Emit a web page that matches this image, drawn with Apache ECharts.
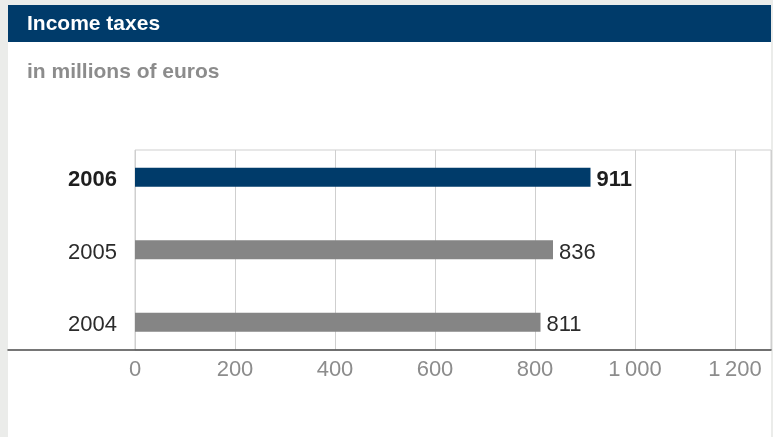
<!DOCTYPE html>
<html>
<head>
<meta charset="utf-8">
<script src="https://cdn.jsdelivr.net/npm/echarts@6/dist/echarts.min.js"></script>
<style>
  html, body { margin: 0; padding: 0; background: #ebecea; }
  #chart { width: 773px; height: 437px; }
</style>
</head>
<body>
<div id="chart"></div>
<script>
// data, top row first
const years = ['2006', '2005', '2004']
const incomeTaxes = [911, 836, 811]
const highlightYear = '2006'
const tickValues = [0, 200, 400, 600, 800, 1000, 1200]

const BLUE = '#003b6a'
const GREY_BAR = '#858585'
const GRID_LINE = '#cfcfcf'
const FONT = '"Liberation Sans", Arial, sans-serif'

// 0.5 px per euro million, 0 at x=135, axis runs to panel edge
const axisMax = 1272

const fmtTick = (v) => {
    if (!tickValues.includes(v)) return ''
    return v >= 1000 ? String(v).replace(/(\d)(\d{3})$/, '$1\u2009$2') : String(v)
}

const barData = years.map((y, i) => {
    const hi = y === highlightYear
    return {
        value: incomeTaxes[i],
        itemStyle: { color: hi ? BLUE : GREY_BAR },
        label: { fontWeight: hi ? 'bold' : 'normal', color: hi ? '#1e1e1e' : '#2b2b2b' },
    }
})

const chart = echarts.init(document.getElementById('chart'), null, { renderer: 'canvas' })
chart.setOption({
    backgroundColor: '#ebecea',
    animation: false,
    textStyle: { fontFamily: FONT },
    graphic: [
        { type: 'rect', shape: { x: 8, y: 5, width: 763, height: 432 }, style: { fill: '#ffffff' }, z: -10 },
        { type: 'rect', shape: { x: 8, y: 5, width: 763, height: 37 }, style: { fill: BLUE }, z: -9 },
    ],
    title: [
        { text: 'Income taxes', left: 27, top: 14, padding: 0,
          textStyle: { color: '#ffffff', fontSize: 21, fontWeight: 'bold', fontFamily: FONT } },
        { text: 'in millions of euros', left: 27, top: 62, padding: 0,
          textStyle: { color: '#8c8c8c', fontSize: 21, fontWeight: 'bold', fontFamily: FONT } },
    ],
    grid: [
        // gridlines + tick labels
        { left: 135, right: 2, top: 150, bottom: 87, show: true, borderColor: GRID_LINE, borderWidth: 1, backgroundColor: 'transparent' },
        // long dark baseline
        { left: 8, right: 2, top: 150, bottom: 87 },
        // bars
        { left: 135, right: 2, top: 141, height: 217.5 },
    ],
    xAxis: [
        {
            gridIndex: 0, type: 'value', min: 0, max: axisMax, interval: 200,
            axisLine: { show: false }, axisTick: { show: false },
            splitLine: { lineStyle: { color: GRID_LINE, width: 1 } },
            axisLabel: { formatter: fmtTick, color: '#8c8c8c', fontSize: 22, margin: 9, showMaxLabel: false },
        },
        {
            gridIndex: 1, type: 'value', min: 0, max: 1,
            axisLine: { show: true, onZero: false, lineStyle: { color: '#4a4a4a', width: 1.5 } },
            axisTick: { show: false }, axisLabel: { show: false }, splitLine: { show: false },
        },
        { gridIndex: 2, type: 'value', min: 0, max: axisMax, show: false },
    ],
    yAxis: [
        { gridIndex: 0, type: 'value', show: false },
        { gridIndex: 1, type: 'value', show: false },
        {
            gridIndex: 2, type: 'category', data: years, inverse: true,
            axisLine: { show: false }, axisTick: { show: false },
            axisLabel: {
                margin: 18, fontSize: 22, color: '#2b2b2b', padding: [6, 0, 0, 0],
                formatter: (v) => (v === highlightYear ? '{b|' + v + '}' : v),
                rich: { b: { fontSize: 22, fontWeight: 'bold', color: '#1e1e1e', fontFamily: FONT } },
            },
        },
    ],
    series: [
        {
            type: 'bar', xAxisIndex: 2, yAxisIndex: 2, data: barData, barWidth: 19,
            label: { show: true, position: 'right', distance: 6, fontSize: 22, offset: [0, 3] },
        },
    ],
})
</script>
</body>
</html>
